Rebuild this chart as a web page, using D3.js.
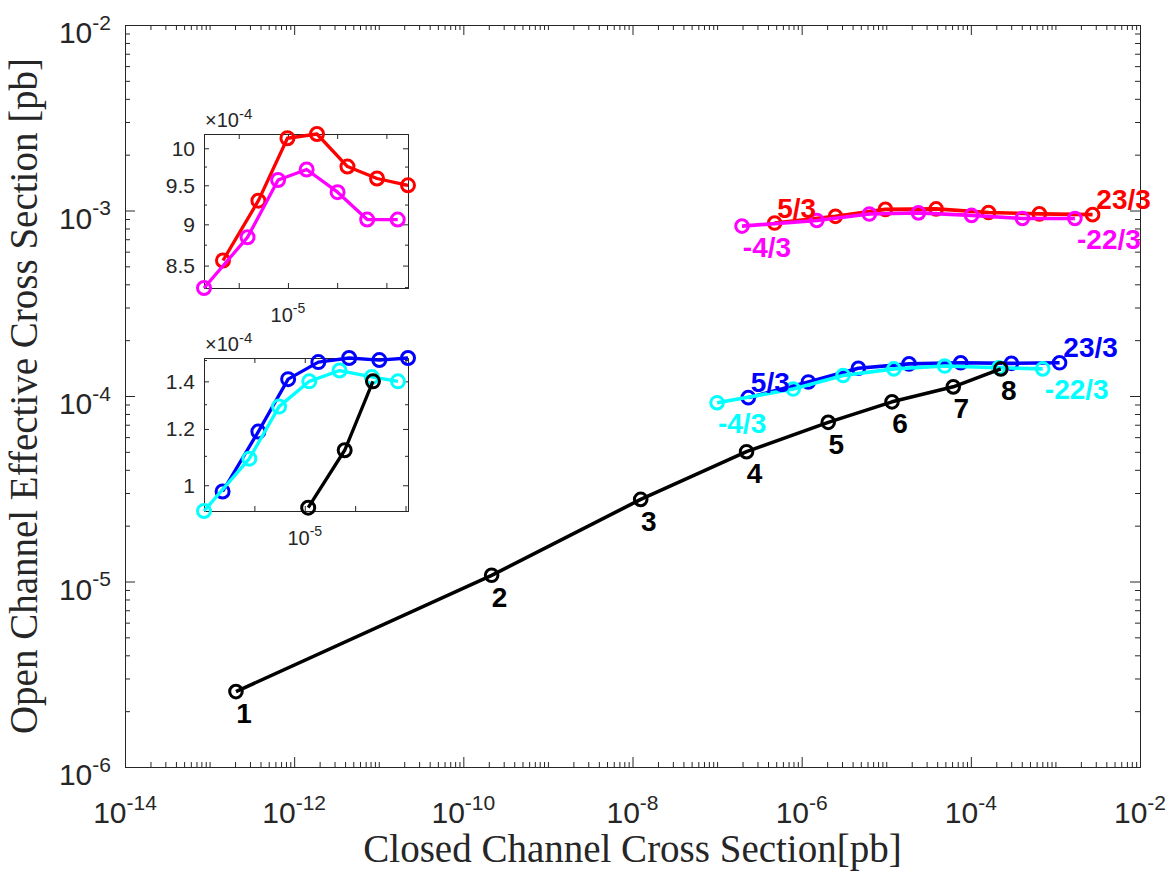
<!DOCTYPE html>
<html>
<head>
<meta charset="utf-8">
<script src="https://cdn.jsdelivr.net/npm/d3@7"></script>
<style>
body { margin: 0; background: #fff; }
text { font-family: "Liberation Sans", Arial, sans-serif; }
</style>
</head>
<body>
<script>
var width = 1167;
var height = 875;

// closed channel (x) vs open channel (y) cross sections, in pb
var blackX = [2.05e-13, 2.16e-10, 1.25e-8, 2.23e-7, 2.06e-6, 1.17e-5, 6.2e-5, 2.26e-4];
var blackY = [2.55e-6, 1.08e-5, 2.77e-5, 5.01e-5, 7.21e-5, 9.3e-5, 1.12e-4, 1.40e-4];
var blackLabels = ["1", "2", "3", "4", "5", "6", "7", "8"];

var blueX = [2.34e-7, 1.20e-6, 4.68e-6, 1.86e-5, 7.59e-5, 3.02e-4, 1.12e-3];
var blueY = [0.98e-4, 1.19e-4, 1.41e-4, 1.49e-4, 1.51e-4, 1.50e-4, 1.51e-4];
var cyanX = [1.0e-7, 7.94e-7, 3.09e-6, 1.23e-5, 4.90e-5, 2.14e-4, 7.08e-4];
var cyanY = [0.92e-4, 1.09e-4, 1.29e-4, 1.40e-4, 1.45e-4, 1.42e-4, 1.40e-4];

var redX = [4.79e-7, 2.51e-6, 9.77e-6, 3.89e-5, 1.62e-4, 6.46e-4, 2.75e-3];
var redY = [8.56e-4, 9.30e-4, 10.14e-4, 10.20e-4, 9.75e-4, 9.59e-4, 9.50e-4];
var magentaX = [1.97e-7, 1.51e-6, 6.31e-6, 2.40e-5, 1.02e-4, 4.07e-4, 1.70e-3];
var magentaY = [8.24e-4, 8.84e-4, 9.57e-4, 9.71e-4, 9.41e-4, 9.06e-4, 9.06e-4];

// labels at first and last point of each coloured curve
var blueLabels = ["5/3", "23/3"];
var cyanLabels = ["-4/3", "-22/3"];
var redLabels = ["5/3", "23/3"];
var magentaLabels = ["-4/3", "-22/3"];

var xLabelExps = [-14, -12, -10, -8, -6, -4, -2];
var yLabelExps = [-6, -5, -4, -3, -2];
var inset1YTicks = [8.5, 9, 9.5, 10];
var inset2YTicks = [1, 1.2, 1.4];

function zip(xs, ys) {
    return xs.map(function (d, i) { return {x: d, y: ys[i]}; });
}

var series = [
    {name: "blue", color: "#0000ff", pts: zip(blueX, blueY), labels: blueLabels, up: true},
    {name: "cyan", color: "#00ffff", pts: zip(cyanX, cyanY), labels: cyanLabels, up: false},
    {name: "red", color: "#ff0000", pts: zip(redX, redY), labels: redLabels, up: true},
    {name: "magenta", color: "#ff00ff", pts: zip(magentaX, magentaY), labels: magentaLabels, up: false},
    {name: "black", color: "#000000", pts: zip(blackX, blackY), labels: blackLabels}
];

var axisColor = "#262626";

var svg = d3.select("body")
        .append("svg")
        .attr("width", width)
        .attr("height", height),
        margin = {top: 25, right: 27, bottom: 108, left: 125};

var x = d3.scaleLog().domain([1e-14, 1e-2]).range([margin.left, width - margin.right]),
        y = d3.scaleLog().domain([1e-6, 1e-2]).range([height - margin.bottom, margin.top]);

function logMinor(lo, hi, skip) {
    var out = [];
    for (var e = lo; e < hi; e++) {
        for (var m = 1; m < 10; m++) {
            var v = m * Math.pow(10, e);
            if (skip(m, e)) continue;
            out.push(v);
        }
    }
    return out;
}

var xMajor = xLabelExps.map(function (e) { return Math.pow(10, e); });
var xMinor = logMinor(-14, -2, function (m, e) { return m === 1 && (e % 2 === 0); });
var yMajor = yLabelExps.map(function (e) { return Math.pow(10, e); });
var yMinor = logMinor(-6, -2, function (m) { return m === 1; });

function styleAxis(g) {
    g.selectAll("path").attr("stroke", axisColor).attr("stroke-width", 1);
    g.selectAll("line").attr("stroke", axisColor).attr("stroke-width", 1);
    g.selectAll("text").remove();
}

function drawTicks(parent, xs, ys, xMaj, xMin, yMaj, yMin, big, small) {
    var x0 = xs.range()[0], x1 = xs.range()[1], y0 = ys.range()[0], y1 = ys.range()[1];
    var defs = [
        {ax: d3.axisBottom, sc: xs, t: "translate(0," + y0 + ")", maj: xMaj, min: xMin},
        {ax: d3.axisTop, sc: xs, t: "translate(0," + y1 + ")", maj: xMaj, min: xMin},
        {ax: d3.axisLeft, sc: ys, t: "translate(" + x0 + ",0)", maj: yMaj, min: yMin},
        {ax: d3.axisRight, sc: ys, t: "translate(" + x1 + ",0)", maj: yMaj, min: yMin}
    ];
    defs.forEach(function (d) {
        parent.append("g").attr("transform", d.t)
                .call(d.ax(d.sc).tickValues(d.maj).tickSizeInner(-big).tickSizeOuter(0))
                .call(styleAxis);
        parent.append("g").attr("transform", d.t)
                .call(d.ax(d.sc).tickValues(d.min).tickSizeInner(-small).tickSizeOuter(0))
                .call(styleAxis);
    });
}

function powLabel(parent, px, py, exp, size, anchor) {
    var t = parent.append("text")
            .attr("x", px).attr("y", py)
            .attr("text-anchor", anchor)
            .attr("fill", axisColor)
            .style("font-size", size + "px");
    t.append("tspan").text("10");
    t.append("tspan").attr("dy", -0.45 * size)
            .style("font-size", (0.7 * size) + "px")
            .text("-" + Math.abs(exp));
    return t;
}

var lineGen = function (xs, ys) {
    return d3.line().x(function (d) { return xs(d.x); }).y(function (d) { return ys(d.y); });
};

function drawSeries(parent, s, pts, xs, ys, lw, r, sw) {
    parent.append("path")
            .datum(pts)
            .attr("fill", "none")
            .attr("stroke", s.color)
            .attr("stroke-width", lw)
            .attr("stroke-linejoin", "round")
            .attr("d", lineGen(xs, ys));
    parent.selectAll(null)
            .data(pts)
            .enter().append("circle")
            .attr("cx", function (d) { return xs(d.x); })
            .attr("cy", function (d) { return ys(d.y); })
            .attr("r", r)
            .attr("fill", "none")
            .attr("stroke", s.color)
            .attr("stroke-width", sw);
}

// main axes
var main = svg.append("g");
drawTicks(main, x, y, xMajor, xMinor, yMajor, yMinor, 10, 5);

xLabelExps.forEach(function (e) {
    powLabel(main, x(Math.pow(10, e)), height - margin.bottom + 56, e, 30, "middle");
});
yLabelExps.forEach(function (e) {
    powLabel(main, margin.left - 14, y(Math.pow(10, e)) + 18, e, 30, "end");
});

main.append("text")
        .attr("x", (x.range()[0] + x.range()[1]) / 2)
        .attr("y", 862)
        .attr("text-anchor", "middle")
        .attr("fill", axisColor)
        .style("font-family", "'Liberation Serif', serif")
        .style("font-size", "39px")
        .text("Closed Channel Cross Section[pb]");

main.append("text")
        .attr("transform", "translate(37," + ((y.range()[0] + y.range()[1]) / 2) + ") rotate(-90)")
        .attr("text-anchor", "middle")
        .attr("fill", axisColor)
        .style("font-family", "'Liberation Serif', serif")
        .style("font-size", "39px")
        .text("Open Channel Effective Cross Section [pb]");

var plot = svg.append("g");
series.forEach(function (s) {
    drawSeries(plot, s, s.pts, x, y, 3.6, 6.3, 3);
});

// curve labels
var lab = svg.append("g")
        .style("font-weight", "bold")
        .style("font-size", "28px")
        .attr("text-anchor", "middle")
        .attr("dominant-baseline", "central");

series.forEach(function (s) {
    if (s.name === "black") {
        s.pts.forEach(function (d, i) {
            lab.append("text")
                    .attr("x", x(d.x) + 8)
                    .attr("y", y(d.y) + 22)
                    .attr("fill", s.color)
                    .text(s.labels[i]);
        });
        return;
    }
    var first = s.pts[0], last = s.pts[s.pts.length - 1];
    var dy = s.up ? -15 : 21;
    lab.append("text")
            .attr("x", x(first.x) + (s.up ? 22 : 25))
            .attr("y", y(first.y) + dy)
            .attr("fill", s.color)
            .text(s.labels[0]);
    lab.append("text")
            .attr("x", x(last.x) + (s.up ? 31 : 34))
            .attr("y", y(last.y) + dy)
            .attr("fill", s.color)
            .text(s.labels[1]);
});

// zoomed insets
function drawInset(box, list, yTicks, yStep) {
    var all = [];
    list.forEach(function (d) { all = all.concat(d.pts); });
    var xs = d3.scaleLog().domain(d3.extent(all, function (d) { return d.x; })).range([box.x0, box.x1]),
            ys = d3.scaleLog().domain(d3.extent(all, function (d) { return d.y; })).range([box.y1, box.y0]);
    var g = svg.append("g");
    g.append("rect")
            .attr("x", box.x0).attr("y", box.y0)
            .attr("width", box.x1 - box.x0).attr("height", box.y1 - box.y0)
            .attr("fill", "#fff");
    var yd = ys.domain();
    var yMin = d3.range(Math.ceil(yd[0] * 1e4 / yStep) * yStep, yd[1] * 1e4, yStep)
            .filter(function (v) { return yTicks.every(function (t) { return Math.abs(t - v) > 1e-6; }); })
            .map(function (v) { return v * 1e-4; });
    var xMaj = [1e-6, 1e-5, 1e-4, 1e-3];
    drawTicks(g, xs, ys, xMaj, [], yTicks.map(function (v) { return v * 1e-4; }), yMin, 5, 3);
    list.forEach(function (s) {
        drawSeries(g, s, s.pts, xs, ys, 3.3, 6.5, 3);
    });
    yTicks.forEach(function (v) {
        g.append("text")
                .attr("x", box.x0 - 9)
                .attr("y", ys(v * 1e-4) + 7.5)
                .attr("text-anchor", "end")
                .attr("fill", axisColor)
                .style("font-size", "21px")
                .text(v);
    });
    powLabel(g, xs(1e-5), box.y1 + 34, -5, 20, "middle");
    var ex = g.append("text")
            .attr("x", box.x0 + 1)
            .attr("y", box.y0 - 7)
            .attr("fill", axisColor)
            .style("font-size", "20px");
    ex.append("tspan").text("\u00d710");
    ex.append("tspan").attr("dy", -8).style("font-size", "15px").text("-4");
}

var byName = {};
series.forEach(function (s) { byName[s.name] = s; });

drawInset({x0: 204, x1: 408, y0: 134, y1: 288},
        [byName.red, byName.magenta], inset1YTicks, 0.25);
drawInset({x0: 204, x1: 408, y0: 358, y1: 511},
        [byName.blue, byName.cyan,
            {name: "black", color: "#000000", pts: byName.black.pts.slice(5)}],
        inset2YTicks, 0.1);
</script>
</body>
</html>
